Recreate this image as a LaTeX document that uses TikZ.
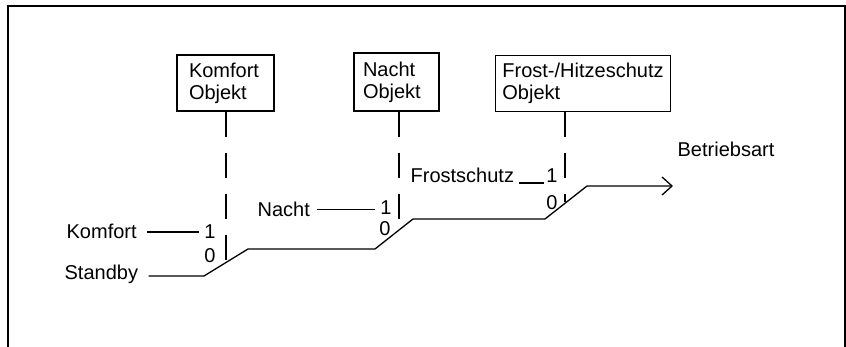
\documentclass[tikz,border=0pt]{standalone}
\usepackage{fontspec}
\setmainfont{Liberation Sans}
\usetikzlibrary{
    arrows.meta
}
\tikzset{
  every path/.style={
    black,
    line width=1.3pt
  },
  objbox/.style={
    draw,
    align=left,
    inner ysep=0pt,
    minimum height=56pt
  },
  lbl/.style={
    inner sep=0pt,
    anchor=base west
  },
  num/.style={
    inner sep=0pt,
    anchor=base
  },
  dashline/.style={
    dash pattern=on 25pt off 16pt
  },
  signal/.style={
    -{Straight Barb[length=10pt,width=18pt]}
  }
}

\begin{document}
\begin{tikzpicture}[x=1pt,y=1pt,font=\fontsize{20pt}{22pt}\selectfont]
    \useasboundingbox (0,0) rectangle (846,347);

    % Rahmen
    \draw[line width=1.5pt] (8,0) -- (8,341) -- (845,341) -- (845,0);

    % Objekte
    \node[objbox,inner xsep=12pt,text width=73pt] (kobj) at (225.5,264) {Komfort\\Objekt};
    \node[objbox,inner xsep=9pt,text width=67pt,minimum height=58pt] (nobj) at (396.5,265) {Nacht\\Objekt};
    \node[objbox,inner xsep=7pt] (fobj) at (583,263.5) {Frost-/Hitzeschutz\\Objekt};

    % Betriebsarten
    \node[lbl] (komfort) at (66,108) {Komfort};
    \node[lbl] (standby) at (64,67) {Standby};
    \node[lbl] (nacht) at (257,130) {Nacht};
    \node[lbl] (frost) at (410,164) {Frostschutz};
    \node[lbl] (betrieb) at (677,190) {Betriebsart};

    % Schalterstellungen
    \node[num] (k1) at (210,108) {1};
    \node[num] (k0) at (210,84) {0};
    \node[num] (n1) at (386,132) {1};
    \node[num] (n0) at (385,111) {0};
    \node[num] (f1) at (552,164) {1};
    \node[num] (f0) at (552,137) {0};

    % Treppe
    \coordinate (s1) at (204,71);
    \coordinate (s2) at (248,98);
    \coordinate (s3) at (375,98);
    \coordinate (s4) at (413,128);
    \coordinate (s5) at (545,128);
    \coordinate (s6) at (587,161);
    \coordinate (s7) at (673,161);
    \draw[signal] ([xshift=10pt]standby.east |- s1) -- (s1) -- (s2) -- (s3)
        -- (s4) -- (s5) -- (s6) -- (s7);

    % Eingaenge
    \draw[shorten <=10pt,shorten >=5pt] (komfort.east) -- (k1.west |- komfort.east);
    \draw[shorten <=6pt,shorten >=5pt] (nacht.east) -- (n1.west |- nacht.east);
    \draw[shorten <=4pt,shorten >=2pt] (frost.base east) -- (f1.base west |- frost.base east);

    % Schalter
    \coordinate (ksw) at (226,85);
    \coordinate (nsw) at (399,117);
    \coordinate (fsw) at (565,145);
    \draw[dashline] (kobj.south -| ksw) -- (ksw);
    \draw[dashline] (nobj.south -| nsw) -- (nsw);
    \draw[dashline] (fobj.south -| fsw) -- (fsw);
\end{tikzpicture}
\end{document}
